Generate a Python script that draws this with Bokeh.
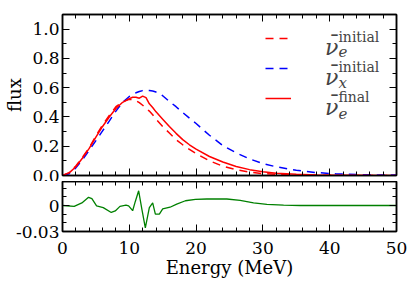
from bokeh.plotting import figure
from bokeh.layouts import column
from bokeh.models import (LinearAxis, FixedTicker, SingleIntervalTicker, Legend, LegendItem,
                          Label, PrintfTickFormatter, CustomJSTickFormatter)
from bokeh.core.properties import value
from bokeh.embed import file_html
from bokeh.resources import INLINE

# ---------------- data ----------------
energy = [0, 1, 2, 3, 4, 5, 6, 7, 8, 9, 10, 10.5, 11, 11.5, 12, 12.5, 13, 13.5, 14, 15,
          16, 17, 18, 19, 20, 22, 24, 26, 28, 30, 32, 35, 38, 41, 44, 47, 50]
nue_initial = [0, 0.02, 0.065, 0.125, 0.19, 0.27, 0.345, 0.41, 0.47, 0.505, 0.52, 0.52, 0.512,
               0.498, 0.48, 0.46, 0.44, 0.415, 0.385, 0.335, 0.29, 0.245, 0.21, 0.178, 0.15,
               0.10, 0.064, 0.039, 0.023, 0.013, 0.008, 0.004, 0.002, 0.001, 0.0006, 0.0003, 0.0002]
nux_initial = [0, 0.012, 0.052, 0.108, 0.172, 0.238, 0.305, 0.372, 0.44, 0.5, 0.54, 0.553, 0.565,
               0.574, 0.58, 0.582, 0.581, 0.577, 0.57, 0.545, 0.506, 0.470, 0.430, 0.392, 0.355,
               0.275, 0.205, 0.155, 0.113, 0.082, 0.059, 0.036, 0.02, 0.011, 0.006, 0.004, 0.003]
nue_final = [0, 0.018, 0.06, 0.12, 0.185, 0.262, 0.335, 0.40, 0.458, 0.50, 0.525, 0.535, 0.535,
             0.528, 0.542, 0.532, 0.49, 0.465, 0.435, 0.385, 0.335, 0.288, 0.245, 0.21, 0.18,
             0.13, 0.092, 0.062, 0.04, 0.026, 0.016, 0.008, 0.004, 0.002, 0.001, 0.0006, 0.0003]

res_energy = [0, 1.75, 2.9, 3.9, 4.4, 5.1, 6.1, 7.3, 7.9, 8.6, 9.5, 9.9, 10.5, 10.9, 11.4, 11.9,
              12.4, 13.0, 13.5, 13.9, 14.5, 15.0, 16.1, 17.1, 18.4, 19.9, 21.6, 24.6, 26.6, 28.6,
              30.6, 33.1, 35.6, 40, 45, 50]
residual = [0, -0.001, 0.003, 0.0095, 0.008, -0.0004, -0.0024, -0.008, -0.0063, -0.001, 0.0004,
            -0.0004, -0.006, 0.0047, 0.017, -0.005, -0.0257, -0.0024, 0.003, -0.010, -0.010,
            -0.004, -0.002, 0.0016, 0.0055, 0.007, 0.0075, 0.0075, 0.006, 0.003, 0.0012, 0.0004,
            0, 0, 0, 0]

x_ticks_major = 10
y_top_major = 0.2

FONT = "DejaVu Serif"
TICK_FS = "17px"
LABEL_FS = "18px"


def style_axis(ax, show_labels=True):
    ax.axis_line_color = "black"
    ax.axis_line_width = 1.5
    ax.major_tick_in = 7
    ax.major_tick_out = 0
    ax.minor_tick_in = 4
    ax.minor_tick_out = 0
    ax.major_tick_line_color = "black"
    ax.minor_tick_line_color = "black"
    ax.major_label_text_font = FONT
    ax.axis_label_text_font = FONT
    ax.axis_label_text_font_style = "normal"
    ax.major_label_text_color = "black"
    ax.axis_label_text_color = "black"
    if show_labels:
        ax.major_label_text_font_size = TICK_FS
        ax.major_label_standoff = 3
    else:
        ax.major_label_text_font_size = "0px"
        ax.major_label_standoff = 0


def base_fig(y_range, frame_h, top, bottom):
    p = figure(x_range=(0, 50), y_range=y_range, frame_width=334, frame_height=frame_h,
               output_backend="svg", toolbar_location=None,
               min_border_left=62, min_border_right=17, min_border_top=top, min_border_bottom=bottom)
    p.grid.visible = False
    p.outline_line_color = "black"
    p.outline_line_width = 1.5
    p.background_fill_color = "white"
    p.border_fill_color = "white"
    return p


# ---------------- top panel ----------------
p1 = base_fig((0, 1.1), 161, 14, 6)
xt1 = SingleIntervalTicker(interval=x_ticks_major, num_minor_ticks=5)
yt1 = SingleIntervalTicker(interval=y_top_major, num_minor_ticks=2)
p1.xaxis.ticker = xt1
p1.yaxis.ticker = yt1
p1.yaxis.formatter = PrintfTickFormatter(format="%.1f")
style_axis(p1.xaxis[0], show_labels=False)
style_axis(p1.yaxis[0])
p1.yaxis.axis_label = "flux"
p1.yaxis.axis_label_text_font_size = LABEL_FS
p1.yaxis.axis_label_standoff = 4
ax = LinearAxis(ticker=xt1)
style_axis(ax, show_labels=False)
p1.add_layout(ax, "above")
ay = LinearAxis(ticker=yt1)
style_axis(ay, show_labels=False)
p1.add_layout(ay, "right")

r1 = p1.line(energy, nue_initial, line_color="#ff0000", line_width=1.5, line_dash="8 6")
r2 = p1.line(energy, nux_initial, line_color="#0000ff", line_width=1.5, line_dash="8 6")
r3 = p1.line(energy, nue_final, line_color="#ff0000", line_width=1.5)

legend = Legend(items=[LegendItem(label=value("\u00a0"), renderers=[r]) for r in (r1, r2, r3)],
                location=(203, 67), glyph_width=26, glyph_height=20, label_height=20,
                label_width=1, spacing=10, padding=0, margin=0, border_line_color=None,
                background_fill_alpha=0, label_text_font_size="2px")
p1.add_layout(legend)

nu_y = [0.877, 0.671, 0.466]
bar_y = [0.900, 0.694, 0.489]
sup_y = [0.947, 0.742, 0.537]
sub_y = [0.845, 0.632, 0.425]
sups = ["initial", "initial", "final"]
subs = ["e", "x", "e"]
for i in range(3):
    p1.add_layout(Label(x=39.3, y=nu_y[i], text="\u03bd", text_font=FONT,
                        text_font_style="italic", text_font_size="22px",
                        text_baseline="alphabetic", text_align="left"))
    p1.add_layout(Label(x=39.9, y=bar_y[i], text="\u00af", text_font=FONT,
                        text_font_size="22px",
                        text_baseline="alphabetic", text_align="left"))
    p1.add_layout(Label(x=41.3, y=sup_y[i], text=sups[i], text_font=FONT,
                        text_font_size="14px", text_baseline="alphabetic", text_align="left"))
    p1.add_layout(Label(x=41.3, y=sub_y[i], text=subs[i], text_font=FONT,
                        text_font_style="italic", text_font_size="15px",
                        text_baseline="alphabetic", text_align="left"))

# ---------------- bottom panel ----------------
p2 = base_fig((-0.03, 0.0277), 50, 0, 0)
xt2 = SingleIntervalTicker(interval=x_ticks_major, num_minor_ticks=5)
yt2 = FixedTicker(ticks=[-0.03, 0, 0.03], minor_ticks=[-0.02, -0.01, 0.01, 0.02])
p2.xaxis.ticker = xt2
p2.yaxis.ticker = yt2
p2.yaxis.formatter = CustomJSTickFormatter(code="return tick == 0 ? '0' : tick.toFixed(2);")
style_axis(p2.xaxis[0])
style_axis(p2.yaxis[0])
p2.xaxis.axis_label = "Energy (MeV)"
p2.xaxis.axis_label_text_font_size = LABEL_FS
p2.xaxis.axis_label_standoff = 0
p2.xaxis.major_label_standoff = 10
ax2 = LinearAxis(ticker=xt2)
style_axis(ax2, show_labels=False)
p2.add_layout(ax2, "above")
ay2 = LinearAxis(ticker=yt2)
style_axis(ay2, show_labels=False)
p2.add_layout(ay2, "right")

p2.line(res_energy, residual, line_color="#008000", line_width=1.3)

layout = column(p1, p2, spacing=0)
open("out.html", "w").write(file_html(layout, INLINE))
